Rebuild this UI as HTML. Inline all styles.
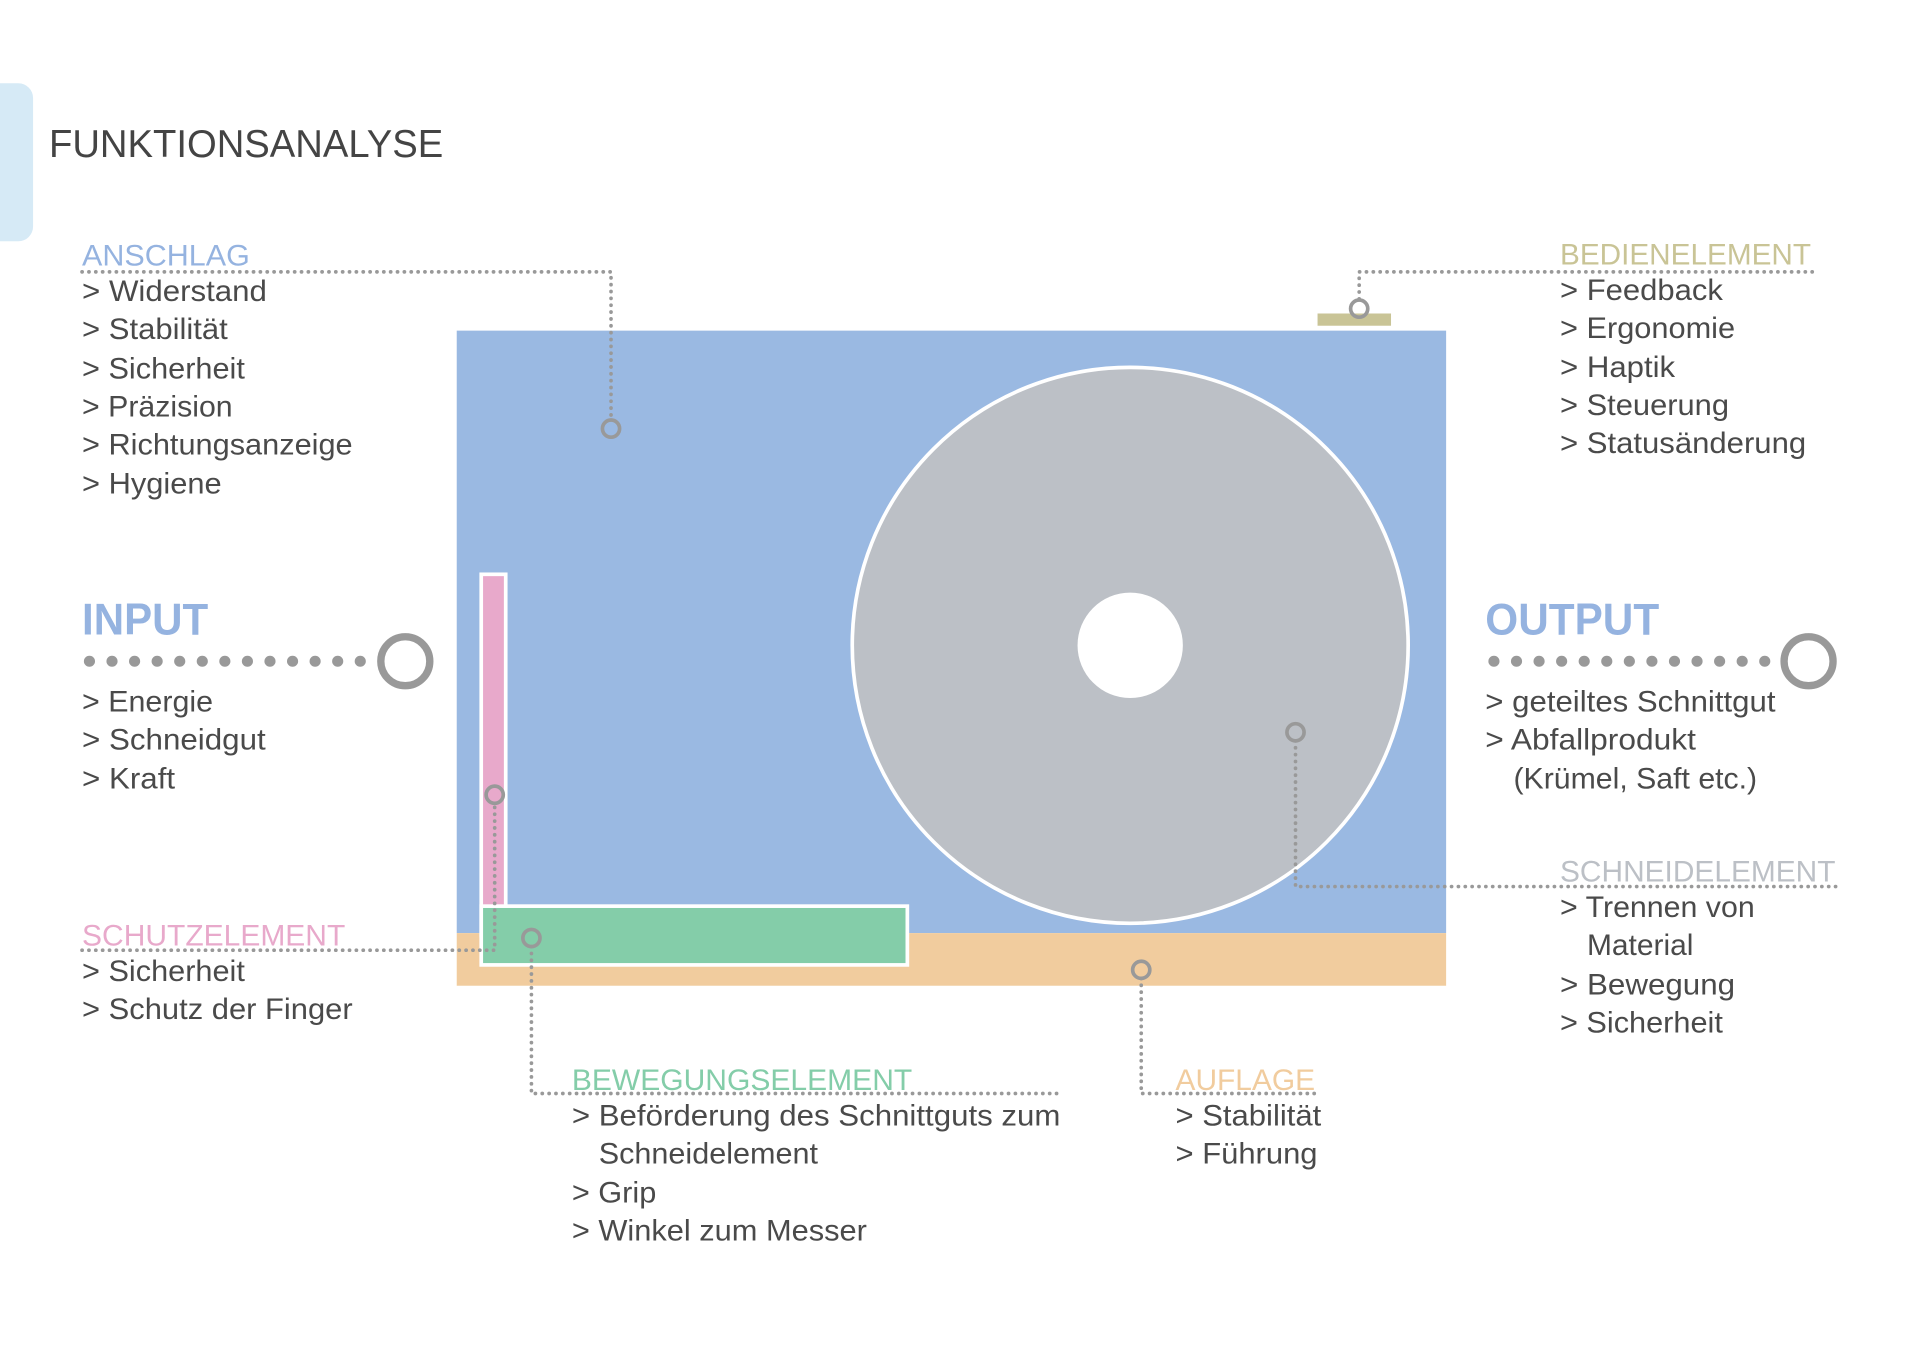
<!DOCTYPE html>
<html><head><meta charset="utf-8"><style>
html,body{margin:0;padding:0;background:#fff;width:1920px;height:1358px;overflow:hidden}
svg{display:block}
text{font-family:"Liberation Sans",sans-serif;font-size:24px;fill:#4a4a4a}
.b{font-weight:bold;font-size:36px;fill:#95b3e0}
</style></head><body>
<svg width="1920" height="1358" viewBox="0 0 1568 1109" xmlns="http://www.w3.org/2000/svg">
<rect x="-20" y="68" width="47" height="129" rx="12" fill="#d6eaf6"/>
<text x="40" y="128" textLength="322" lengthAdjust="spacingAndGlyphs" style="font-size:32px;fill:#444">FUNKTIONSANALYSE</text>

<rect x="373" y="270" width="808" height="492" fill="#9ab9e2"/>
<rect x="373" y="762" width="808" height="43" fill="#f1cc9e"/>
<rect x="1076" y="256" width="60" height="10" fill="#c9c496"/>
<circle cx="923" cy="527" r="227" fill="#bcc0c6" stroke="#fff" stroke-width="3"/>
<circle cx="923" cy="527" r="43" fill="#fff"/>
<rect x="393" y="469" width="20" height="295" fill="#e8a9cb" stroke="#fff" stroke-width="3"/>
<rect x="393" y="740" width="348" height="48" fill="#84cda9" stroke="#fff" stroke-width="3"/>

<g fill="none" stroke="#999" stroke-width="3" stroke-dasharray="0.1 5.5" stroke-linecap="round">
<polyline points="67,222 499,222 499,343"/>
<polyline points="1480,222 1110,222 1110,245"/>
<polyline points="67,776 404,776 404,656"/>
<polyline points="434,773 434,893 866,893"/>
<polyline points="932,799 932,893 1078,893"/>
<polyline points="1058,605 1058,724 1500,724"/>
</g>
<g fill="none" stroke="#999" stroke-width="3">
<circle cx="499" cy="350" r="7"/><circle cx="1110" cy="252" r="7"/>
<circle cx="404" cy="649" r="7"/><circle cx="434" cy="766" r="7"/>
<circle cx="1058" cy="598" r="7"/><circle cx="932" cy="792" r="7"/>
<circle cx="331" cy="540" r="20" stroke-width="6"/><circle cx="1477" cy="540" r="20" stroke-width="6"/>
</g>
<g fill="none" stroke="#999" stroke-width="9" stroke-dasharray="0.1 18.33" stroke-linecap="round">
<line x1="73" y1="540" x2="295" y2="540"/>
<line x1="1220" y1="540" x2="1442" y2="540"/>
</g>

<text x="67" y="217" style="fill:#95b3e0" textLength="137" lengthAdjust="spacingAndGlyphs">ANSCHLAG</text>
<text x="67" y="246" textLength="151" lengthAdjust="spacingAndGlyphs">&gt; Widerstand</text>
<text x="67" y="277" textLength="119" lengthAdjust="spacingAndGlyphs">&gt; Stabilität</text>
<text x="67" y="309" textLength="133" lengthAdjust="spacingAndGlyphs">&gt; Sicherheit</text>
<text x="67" y="340" textLength="123" lengthAdjust="spacingAndGlyphs">&gt; Präzision</text>
<text x="67" y="371" textLength="221" lengthAdjust="spacingAndGlyphs">&gt; Richtungsanzeige</text>
<text x="67" y="403" textLength="114" lengthAdjust="spacingAndGlyphs">&gt; Hygiene</text>

<text x="1274" y="216" style="fill:#c9c496" textLength="205" lengthAdjust="spacingAndGlyphs">BEDIENELEMENT</text>
<text x="1274" y="245" textLength="133" lengthAdjust="spacingAndGlyphs">&gt; Feedback</text>
<text x="1274" y="276" textLength="143" lengthAdjust="spacingAndGlyphs">&gt; Ergonomie</text>
<text x="1274" y="308" textLength="94" lengthAdjust="spacingAndGlyphs">&gt; Haptik</text>
<text x="1274" y="339" textLength="138" lengthAdjust="spacingAndGlyphs">&gt; Steuerung</text>
<text x="1274" y="370" textLength="201" lengthAdjust="spacingAndGlyphs">&gt; Statusänderung</text>

<text x="67" y="518" class="b" textLength="103" lengthAdjust="spacingAndGlyphs">INPUT</text>
<text x="67" y="581" textLength="107" lengthAdjust="spacingAndGlyphs">&gt; Energie</text>
<text x="67" y="612" textLength="150" lengthAdjust="spacingAndGlyphs">&gt; Schneidgut</text>
<text x="67" y="644" textLength="76" lengthAdjust="spacingAndGlyphs">&gt; Kraft</text>
<text x="1213" y="518" class="b" textLength="142" lengthAdjust="spacingAndGlyphs">OUTPUT</text>
<text x="1213" y="581" textLength="237" lengthAdjust="spacingAndGlyphs">&gt; geteiltes Schnittgut</text>
<text x="1213" y="612" textLength="172" lengthAdjust="spacingAndGlyphs">&gt; Abfallprodukt</text>
<text x="1236" y="644" textLength="199" lengthAdjust="spacingAndGlyphs">(Krümel, Saft etc.)</text>

<text x="1274" y="720" style="fill:#bcc0c6" textLength="225" lengthAdjust="spacingAndGlyphs">SCHNEIDELEMENT</text>
<text x="1274" y="749" textLength="159" lengthAdjust="spacingAndGlyphs">&gt; Trennen von</text>
<text x="1296" y="780" textLength="87" lengthAdjust="spacingAndGlyphs">Material</text>
<text x="1274" y="812" textLength="143" lengthAdjust="spacingAndGlyphs">&gt; Bewegung</text>
<text x="1274" y="843" textLength="133" lengthAdjust="spacingAndGlyphs">&gt; Sicherheit</text>

<text x="67" y="772" style="fill:#e8a9cb" textLength="215" lengthAdjust="spacingAndGlyphs">SCHUTZELEMENT</text>
<text x="67" y="801" textLength="133" lengthAdjust="spacingAndGlyphs">&gt; Sicherheit</text>
<text x="67" y="832" textLength="221" lengthAdjust="spacingAndGlyphs">&gt; Schutz der Finger</text>

<text x="467" y="890" style="fill:#84cda9" textLength="278" lengthAdjust="spacingAndGlyphs">BEWEGUNGSELEMENT</text>
<text x="467" y="919" textLength="399" lengthAdjust="spacingAndGlyphs">&gt; Beförderung des Schnittguts zum</text>
<text x="489" y="950" textLength="179" lengthAdjust="spacingAndGlyphs">Schneidelement</text>
<text x="467" y="982" textLength="69" lengthAdjust="spacingAndGlyphs">&gt; Grip</text>
<text x="467" y="1013" textLength="241" lengthAdjust="spacingAndGlyphs">&gt; Winkel zum Messer</text>

<text x="960" y="890" style="fill:#f1cc9e" textLength="114" lengthAdjust="spacingAndGlyphs">AUFLAGE</text>
<text x="960" y="919" textLength="119" lengthAdjust="spacingAndGlyphs">&gt; Stabilität</text>
<text x="960" y="950" textLength="116" lengthAdjust="spacingAndGlyphs">&gt; Führung</text>
</svg>
</body></html>
